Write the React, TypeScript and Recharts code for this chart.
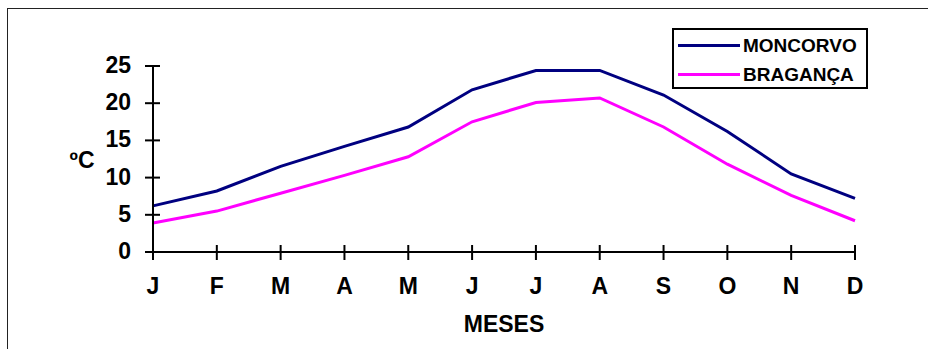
import { LineChart, Line, XAxis, YAxis, Legend, Label } from 'recharts';

const months = ['J', 'F', 'M', 'A', 'M', 'J', 'J', 'A', 'S', 'O', 'N', 'D'];
const moncorvo = [6.2, 8.2, 11.5, 14.2, 16.8, 21.8, 24.4, 24.4, 21.1, 16.2, 10.5, 7.2];
const braganca = [3.9, 5.5, 7.9, 10.3, 12.8, 17.5, 20.1, 20.7, 16.8, 11.8, 7.6, 4.2];
const yTicks = [0, 5, 10, 15, 20, 25];
const seriesNames = ['MONCORVO', 'BRAGANÇA'];

const data = months.map((m, i) => ({ month: m, moncorvo: moncorvo[i], braganca: braganca[i] }));

const W = 928;
const H = 349;
const Y_WIDTH = 60;
const MARGIN = { top: 66, right: 73, bottom: 57, left: 93 };
const AXIS_X = MARGIN.left + Y_WIDTH;
const AXIS_Y = H - MARGIN.bottom - 40;
const FONT = '"Liberation Sans", Arial, sans-serif';
const FS = 23;

const XTick = (props: any) => {
  const { x, payload } = props;
  return (
    <g>
      <line x1={x} x2={x} y1={AXIS_Y - 7} y2={AXIS_Y + 8} stroke="#000" strokeWidth={2} />
      <text x={x} y={AXIS_Y + 42} textAnchor="middle" fontFamily={FONT} fontWeight="bold" fontSize={FS} fill="#000">
        {payload.value}
      </text>
    </g>
  );
};

const YTick = (props: any) => {
  const { y, payload } = props;
  return (
    <g>
      <line x1={AXIS_X - 8} x2={AXIS_X + 7} y1={y} y2={y} stroke="#000" strokeWidth={2} />
      <text x={131} y={y + 7} textAnchor="end" fontFamily={FONT} fontWeight="bold" fontSize={FS} fill="#000">
        {payload.value}
      </text>
    </g>
  );
};

const LegendBox = (props: any) => {
  const payload = [...(props.payload || [])].sort(
    (a: any, b: any) => seriesNames.indexOf(a.value) - seriesNames.indexOf(b.value)
  );
  return (
    <div
      style={{
        border: '2px solid #000',
        width: 192,
        height: 56,
        boxSizing: 'content-box',
        background: '#fff',
        fontFamily: FONT,
        fontWeight: 'bold',
        fontSize: 19,
        paddingTop: 1,
      }}
    >
      {payload.map((p: any) => (
        <div key={p.value} style={{ display: 'flex', alignItems: 'center', height: 29 }}>
          <div style={{ width: 62, height: 3, background: p.color, marginLeft: 4, marginRight: 3 }} />
          <span style={{ color: '#000', lineHeight: '29px' }}>{p.value}</span>
        </div>
      ))}
    </div>
  );
};

export default function App() {
  return (
    <div style={{ position: 'absolute', left: 0, top: 0, width: W, height: H, overflow: 'hidden', background: '#fff' }}>
      <div
        style={{
          position: 'absolute',
          left: 7,
          top: 8,
          width: 1000,
          height: 500,
          border: '1px solid #222',
        }}
      />
      <div style={{ position: 'absolute', left: 0, top: 0 }}>
        <LineChart width={W} height={H} data={data} margin={MARGIN}>
          <XAxis
            dataKey="month"
            height={40}
            axisLine={{ stroke: '#000', strokeWidth: 2 }}
            tickLine={false}
            tick={<XTick />}
            interval={0}
            padding={{ left: 0, right: 0 }}
          >
            <Label
              value="MESES"
              content={() => (
                <text
                  x={(AXIS_X + W - MARGIN.right) / 2}
                  y={332}
                  textAnchor="middle"
                  fontFamily={FONT}
                  fontWeight="bold"
                  fontSize={FS}
                  fill="#000"
                >
                  MESES
                </text>
              )}
            />
          </XAxis>
          <YAxis
            width={Y_WIDTH}
            domain={[0, 25]}
            ticks={yTicks}
            axisLine={{ stroke: '#000', strokeWidth: 2 }}
            tickLine={false}
            tick={<YTick />}
            interval={0}
          >
            <Label
              value="ºC"
              content={() => (
                <text x={82} y={168} textAnchor="middle" fontFamily={FONT} fontWeight="bold" fontSize={FS} fill="#000">
                  ºC
                </text>
              )}
            />
          </YAxis>
          <Legend
            layout="horizontal"
            verticalAlign="middle"
            align="center"
            content={<LegendBox />}
            wrapperStyle={{ left: 672, top: 28, width: 196, height: 60 }}
          />
          <Line
            name={seriesNames[0]}
            dataKey="moncorvo"
            stroke="#000080"
            strokeWidth={3}
            dot={false}
            isAnimationActive={false}
          />
          <Line
            name={seriesNames[1]}
            dataKey="braganca"
            stroke="#FF00FF"
            strokeWidth={3}
            dot={false}
            isAnimationActive={false}
          />
        </LineChart>
      </div>
    </div>
  );
}
